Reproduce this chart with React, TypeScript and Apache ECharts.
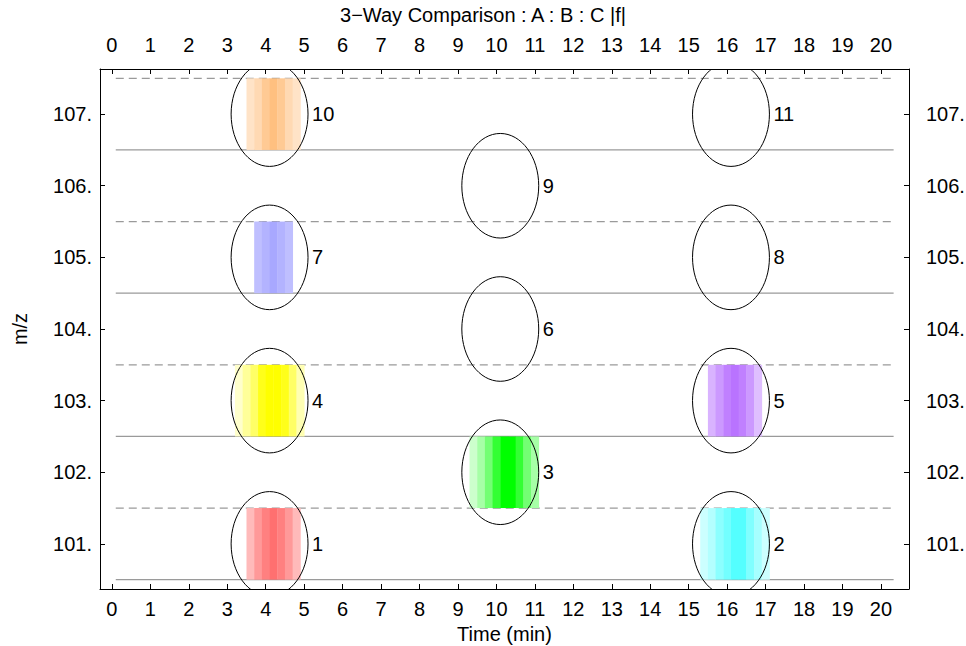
import React, { useEffect, useRef } from "react";
import * as echarts from "echarts";

const FONT = "Liberation Sans, Arial, Helvetica, sans-serif";

// Axis ranges & ticks
const timeRange = [-0.31, 20.73];
const mzRange = [100.37, 107.63];
const timeTicks = [0, 1, 2, 3, 4, 5, 6, 7, 8, 9, 10, 11, 12, 13, 14, 15, 16, 17, 18, 19, 20];
const timeTickLabels = ["0", "1", "2", "3", "4", "5", "6", "7", "8", "9", "10", "11", "12", "13", "14", "15", "16", "17", "18", "19", "20"];
const mzTicks = [101, 102, 103, 104, 105, 106, 107];
const mzTickLabels = ["101.", "102.", "103.", "104.", "105.", "106.", "107."];

// Horizontal separators
const solidLevels = [100.5, 102.5, 104.5, 106.5];
const dashedLevels = [101.5, 103.5, 105.5, 107.5];
const separatorSpan = [0.1, 20.33];

// Peaks (ellipse centres)
const peakIds = [1, 2, 3, 4, 5, 6, 7, 8, 9, 10, 11];
const peakTimes = [4.1, 16.1, 10.1, 4.1, 16.1, 10.1, 4.1, 16.1, 10.1, 4.1, 16.1];
const peakMz = [101, 101, 102, 103, 103, 104, 105, 105, 106, 107, 107];
const ellipseRadius = [1.0, 0.73]; // [min, m/z]

// Intensity stripes (per coloured peak)
const stripeWidth = 0.2;
const stripePeaks = [1, 2, 3, 4, 5, 7, 10];
const stripeColors = ["#ff0000", "#00ffff", "#00ff00", "#ffff00", "#8000ff", "#0000ff", "#ff8000"];
const stripeStarts = [3.5, 15.3, 9.3, 3.2, 15.5, 3.7, 3.5];
const stripeAlphas = [
  [0.27, 0.4, 0.5, 0.56, 0.5, 0.4, 0.27],
  [0.2, 0.3, 0.45, 0.55, 0.67, 0.67, 0.5, 0.35, 0.2],
  [0.2, 0.35, 0.55, 0.8, 1, 1, 0.8, 0.55, 0.35],
  [0.2, 0.4, 0.6, 0.9, 1, 1, 0.9, 0.6, 0.3],
  [0.3, 0.4, 0.5, 0.55, 0.5, 0.4, 0.25],
  [0.25, 0.3, 0.34, 0.3, 0.25],
  [0.22, 0.3, 0.42, 0.5, 0.42, 0.3, 0.22],
];

function blend(hex: string, a: number) {
  const r = parseInt(hex.slice(1, 3), 16);
  const g = parseInt(hex.slice(3, 5), 16);
  const b = parseInt(hex.slice(5, 7), 16);
  const m = (c: number) => Math.round(255 - a * (255 - c));
  return `rgb(${m(r)},${m(g)},${m(b)})`;
}

export default function App() {
  const ref = useRef<HTMLDivElement>(null);
  useEffect(() => {
    document.body.style.margin = "0";
    const chart = echarts.init(ref.current!, null, { renderer: "svg" });

    const stripeData: any[] = [];
    stripePeaks.forEach((pid, k) => {
      const idx = peakIds.indexOf(pid);
      const mz = peakMz[idx];
      stripeAlphas[k].forEach((a, i) => {
        const x0 = stripeStarts[k] + i * stripeWidth;
        stripeData.push([x0, x0 + stripeWidth, mz - 0.5, mz + 0.5, blend(stripeColors[k], a)]);
      });
    });

    const ellipseData = peakIds.map((id, i) => [peakTimes[i], peakMz[i], id]);

    const lineSeries: any[] = [];
    solidLevels.forEach((lv) =>
      lineSeries.push({
        type: "line",
        data: [[separatorSpan[0], lv], [separatorSpan[1], lv]],
        symbol: "none",
        silent: true,
        lineStyle: { color: "#9a9a9a", width: 1.2, type: "solid" },
        z: 1,
      })
    );
    dashedLevels.forEach((lv) =>
      lineSeries.push({
        type: "line",
        data: [[separatorSpan[0], lv], [separatorSpan[1], lv]],
        symbol: "none",
        silent: true,
        lineStyle: { color: "#9a9a9a", width: 1.2, type: [8, 5] },
        z: 1,
      })
    );

    const xAxisBase = (pos: string, margin: number) => ({
      type: "value",
      position: pos,
      min: timeRange[0],
      max: timeRange[1],
      axisLine: { show: true, onZero: false, lineStyle: { color: "#000", width: 1 } },
      axisTick: { show: true, inside: true, length: 5, customValues: timeTicks, lineStyle: { color: "#000" } },
      axisLabel: {
        customValues: timeTicks,
        formatter: (v: number) => timeTickLabels[timeTicks.indexOf(Math.round(v))],
        fontSize: 20,
        fontFamily: FONT,
        color: "#000",
        margin,
      },
      splitLine: { show: false },
    });
    const yAxisBase = (pos: string, margin: number) => ({
      type: "value",
      position: pos,
      min: mzRange[0],
      max: mzRange[1],
      axisLine: { show: true, onZero: false, lineStyle: { color: "#000", width: 1 } },
      axisTick: { show: true, inside: true, length: 5, customValues: mzTicks, lineStyle: { color: "#000" } },
      axisLabel: {
        customValues: mzTicks,
        formatter: (v: number) => mzTickLabels[mzTicks.indexOf(Math.round(v))],
        fontSize: 20,
        fontFamily: FONT,
        color: "#000",
        margin,
      },
      splitLine: { show: false },
    });

    chart.setOption({
      animation: false,
      backgroundColor: "#fff",
      title: {
        text: "3\u2212Way Comparison : A : B : C |f|",
        left: "center",
        top: 0,
        textStyle: { fontSize: 20, fontWeight: "normal", fontFamily: FONT, color: "#000" },
      },
      grid: { left: 100, right: 57, top: 69, bottom: 57, containLabel: false, outerBoundsMode: "none" },
      xAxis: [
        {
          ...xAxisBase("bottom", 10),
          name: "Time (min)",
          nameLocation: "middle",
          nameGap: 33,
          nameTextStyle: { fontSize: 20, fontFamily: FONT, color: "#000" },
        },
        xAxisBase("top", 14),
      ],
      yAxis: [
        {
          ...yAxisBase("left", 8),
          name: "m/z",
          nameLocation: "middle",
          nameRotate: 90,
          nameGap: 70,
          nameTextStyle: { fontSize: 20, fontFamily: FONT, color: "#000" },
        },
        yAxisBase("right", 17),
      ],
      series: [
        ...lineSeries,
        {
          type: "custom",
          clip: true,
          silent: true,
          z: 2,
          data: stripeData,
          renderItem: (params: any, api: any) => {
            const p0 = api.coord([api.value(0), api.value(3)]);
            const p1 = api.coord([api.value(1), api.value(2)]);
            const color = stripeData[params.dataIndex][4];
            return {
              type: "rect",
              shape: { x: p0[0], y: p0[1], width: p1[0] - p0[0] + 0.4, height: p1[1] - p0[1] },
              style: { fill: color },
            };
          },
        },
        {
          type: "custom",
          clip: true,
          silent: true,
          z: 3,
          data: ellipseData,
          renderItem: (params: any, api: any) => {
            const c = api.coord([api.value(0), api.value(1)]);
            const s = api.size([ellipseRadius[0], ellipseRadius[1]]);
            return {
              type: "group",
              children: [
                {
                  type: "ellipse",
                  shape: { cx: c[0], cy: c[1], rx: s[0], ry: s[1] },
                  style: { fill: "none", stroke: "#000", lineWidth: 1 },
                },
                {
                  type: "text",
                  x: c[0] + s[0] + 4,
                  y: c[1],
                  style: {
                    text: String(api.value(2)),
                    fontSize: 20,
                    fontFamily: FONT,
                    fill: "#000",
                    align: "left",
                    verticalAlign: "middle",
                  },
                },
              ],
            };
          },
        },
      ],
    });
    return () => chart.dispose();
  }, []);
  return <div ref={ref} style={{ width: 966, height: 646 }} />;
}
